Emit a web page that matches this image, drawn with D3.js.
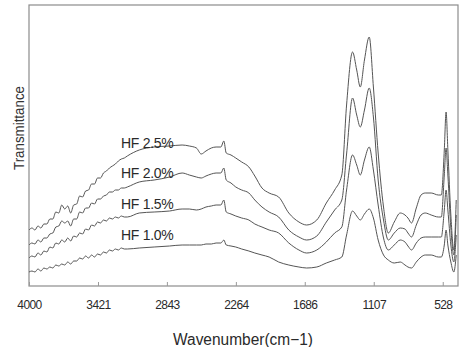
<!DOCTYPE html>
<html>
<head>
<meta charset="utf-8">
<script src="https://cdn.jsdelivr.net/npm/d3@7/dist/d3.min.js"></script>
<style>
  body { margin: 0; background: #fff; }
  svg { display: block; }
</style>
</head>
<body>
<div id="chart"></div>
<script>
// wavenumber grid (cm-1)
const wavenumber = [
  4000,3975,3950,3925,3900,3875,3850,3825,3800,3775,3750,3725,3700,3675,3650,3625,3600,
  3575,3550,3525,3500,3475,3450,3425,3400,3375,3350,3325,3300,3275,3250,3225,3200,
  3175,3075,2950,2820,2715,2655,2595,2555,2515,2470,
  2430,2390,2365,2345,2305,2265,2215,2155,2105,2045,
  1985,1905,1820,1735,1670,1585,1505,1435,1375,1335,
  1285,1250,1220,1185,1145,1110,1070,1025,985,935,
  885,845,820,790,750,710,675,625,565,540,
  515,500,485,460,435,415
];

// transmittance (offset, arbitrary units)
const hf25 = [
  28,29,28,30,29,31,31,33.5,33.5,37,36.5,40.5,38.5,40,36.5,40.5,41,
  45,44.5,47.5,48,51,51,54,54,56.5,57.5,59,60,61,62.5,63.5,64,
  65,68,69.5,70,70.5,70,69,66,67.5,69,
  69.5,69.5,72.5,66.5,65.5,64,62,59.5,55,49,
  46.5,44.5,36.5,32,30.5,33,41.5,48,55.5,90.5,
  117,108,99.5,113,124.5,99.5,66.5,39.5,26.5,32,
  36.5,35.5,34,31.5,39,45.5,46.5,46.5,45.5,45.5,
  68,87,68,35.5,18,43
];
const hf20 = [
  20.5,21.5,21,23,22,24,24,26,26.5,29.5,30,32.5,31.5,32.5,30,33.5,33.5,
  37,36.5,39,39,41.5,41,43.5,43.5,45,45.5,47,47,48,48,49,49,
  49.5,52,53,54.5,56.5,55.5,54.5,54,55,56,
  56.5,56.5,59,53,51.5,49.5,48,46.5,43,39.5,
  37,34.5,28,24.5,23,25,32,38,43,66,
  94,85.5,79.5,88,99,84.5,53,33,23,26.5,
  29,28.5,26.5,24.5,30.5,35.5,36.5,35.5,34.5,34.5,
  55.5,69,55.5,29,15.5,35.5
];
const hf15 = [
  14,15,14.5,16.5,15.5,17.5,17,19.5,19,21.5,21,23,22,24,22.5,25,24.5,
  26.5,26,28.5,28,30.5,30,32,31.5,33,32.5,34,33.5,34.5,34,35,34.5,
  34.5,36.5,37,37.5,38.5,38.5,38,38.5,39.5,40,
  40.5,40.5,43,37,36,35,34,33,31,29.5,
  28,26.5,21.5,18,16.5,18,22,26.5,29.5,48,
  65.5,60.5,55.5,63,69.5,58,40.5,24,18,20.5,
  23,22,20,18,21.5,24,24.5,24.5,24.5,24.5,
  38,48,38,20.5,12,25.5
];
const hf10 = [
  7,7.5,7,8.5,7.5,9,8.5,9.5,9,10.5,10,11,10.5,12,11,12.5,12.5,
  14,13.5,15,14,15.5,14.5,16,15.5,17,16.5,18,17.5,18.5,18,19,18.5,
  18.5,19,19.5,20,20.5,20.5,20.5,20.5,21,21,
  21.5,21.5,23,20.5,20,19.5,18.5,17.5,16.5,15.5,
  14.5,12,10.5,9.5,9,9.5,11.5,13,14.5,25.5,
  37.5,35,33,36,38.5,34,23,15.5,13,11.5,
  12,10.5,9.5,9,12,14.5,15.5,15.5,14.5,14.5,
  20.5,28,20.5,12,7,15.5
];

const seriesNames = ["HF 2.5%", "HF 2.0%", "HF 1.5%", "HF 1.0%"];
const xTicks = [4000, 3421, 2843, 2264, 1686, 1107, 528];

const W = 462, H = 347;
const margin = {top: 5, right: 4, bottom: 61, left: 29},
  width = W - margin.left - margin.right,
  height = H - margin.top - margin.bottom;

const svg = d3.select("#chart").append("svg")
  .attr("width", W)
  .attr("height", H)
  .style("font-family", "'Liberation Sans', Arial, sans-serif");

const plot = svg.append("g")
  .attr("transform", "translate(" + margin.left + "," + margin.top + ")");

const x = d3.scaleLinear().domain([4000, 400]).range([0, width]);
const y = d3.scaleLinear().domain([0, 140.5]).range([height, 0]);

// frame
plot.append("rect")
  .attr("x", 0).attr("y", 0)
  .attr("width", width).attr("height", height)
  .attr("fill", "none")
  .attr("stroke", "#8c8c8c")
  .attr("stroke-width", 1.2);

// bottom axis, ticks pointing inside
const xAxis = d3.axisBottom(x)
  .tickValues(xTicks)
  .tickFormat(d3.format("d"))
  .tickSizeInner(-4)
  .tickSizeOuter(0)
  .tickPadding(14);

const gx = plot.append("g")
  .attr("transform", "translate(0," + height + ")")
  .call(xAxis);
gx.select(".domain").remove();
gx.selectAll(".tick line").attr("stroke", "#999");
gx.selectAll(".tick text")
  .attr("fill", "#2a2a2a")
  .style("font-size", "12px")
  .style("letter-spacing", "-0.6px");

// spectra
const series = [hf25, hf20, hf15, hf10];
const line = d3.line()
  .x((d, i) => x(wavenumber[i]))
  .y(d => y(d))
  .curve(d3.curveMonotoneX);

plot.selectAll(".spectrum")
  .data(series)
  .enter().append("path")
  .attr("class", "spectrum")
  .attr("d", d => line(d))
  .attr("fill", "none")
  .attr("stroke", "#555")
  .attr("stroke-width", 1);

// curve labels
const labelY = [148, 178, 209, 240];
svg.selectAll(".hf-label")
  .data(seriesNames)
  .enter().append("text")
  .attr("class", "hf-label")
  .attr("x", 121)
  .attr("y", (d, i) => labelY[i])
  .attr("fill", "#2a2a2a")
  .style("font-size", "14px")
  .style("letter-spacing", "-0.3px")
  .text(d => d);

// axis titles
svg.append("text")
  .attr("transform", "translate(24," + 128 + ") rotate(-90)")
  .attr("text-anchor", "middle")
  .attr("fill", "#333")
  .attr("textLength", 84)
  .attr("lengthAdjust", "spacingAndGlyphs")
  .style("font-size", "15px")
  .text("Transmittance");

svg.append("text")
  .attr("x", 243)
  .attr("y", 345)
  .attr("text-anchor", "middle")
  .attr("fill", "#2a2a2a")
  .attr("textLength", 140)
  .attr("lengthAdjust", "spacingAndGlyphs")
  .style("font-size", "16px")
  .text("Wavenumber(cm\u22121)");
</script>
</body>
</html>
